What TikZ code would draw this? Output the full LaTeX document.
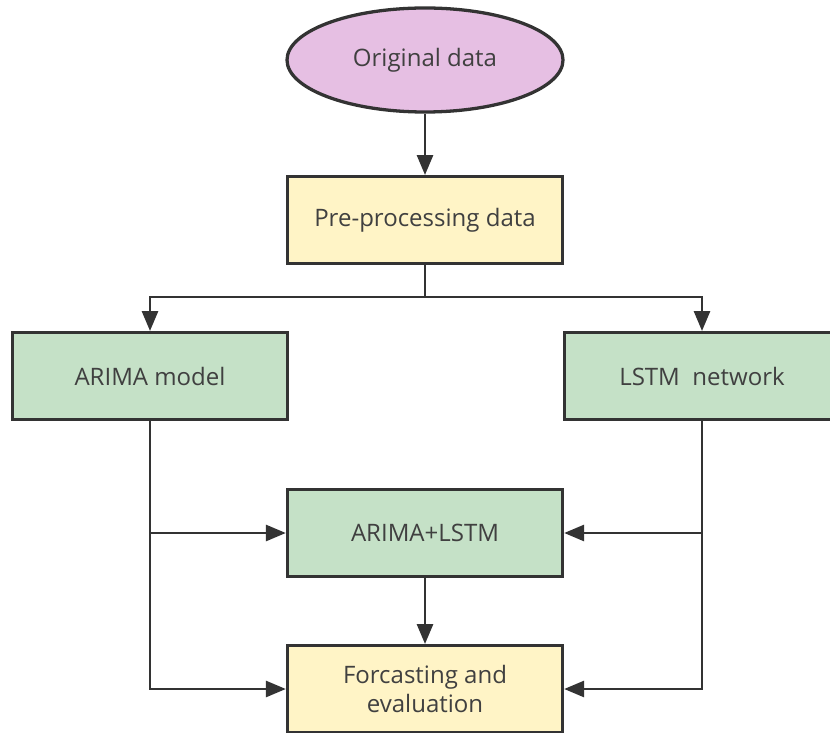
\documentclass[tikz,border=0pt]{standalone}
\usepackage{fontspec}
\setmainfont{Open Sans}
\usetikzlibrary{arrows.meta,shapes.geometric}
\definecolor{edgegray}{HTML}{333333}
\definecolor{textgray}{HTML}{404040}
\definecolor{startpink}{HTML}{E6BFE3}
\definecolor{procyellow}{HTML}{FFF4C6}
\definecolor{modelgreen}{HTML}{C5E1C7}
\begin{document}
\begin{tikzpicture}[x=0.3mm,y=-0.3mm,
  every node/.style={font=\fontsize{20.5}{24}\selectfont,text=textgray},
  box/.style={draw=edgegray,line width=2.8pt,minimum width=82.5mm,minimum height=26mm,align=center},
  conn/.style={draw=edgegray,line width=2.4pt,-{Triangle[length=6mm,width=4.8mm]}}]
  \clip (0,0) rectangle (830,733);
  \node[ellipse,draw=edgegray,line width=2.8pt,fill=startpink,minimum width=82.8mm,minimum height=31.2mm] (orig) at (425,60) {Original data};
  \node[box,fill=procyellow] (pre) at (425,220) {Pre-processing data};
  \node[box,fill=modelgreen] (arima) at (150,376) {ARIMA model};
  \node[box,fill=modelgreen] (lstm) at (702,376) {LSTM\ \ network};
  \node[box,fill=modelgreen] (hybrid) at (425,533) {ARIMA+LSTM};
  \node[box,fill=procyellow] (fore) at (425,689) {Forcasting and\\evaluation};
  % splitting after pre-processing
  \coordinate (split) at (425,297);
  \draw[conn] (orig) -- (pre);
  \draw[edgegray,line width=2.4pt] (pre) -- (split);
  \draw[conn] (split) -| (arima);
  \draw[conn] (split) -| (lstm);
  % model outputs
  \draw[conn] (arima.south) |- (fore.west);
  \draw[conn] (arima.south |- hybrid) -- (hybrid.west);
  \draw[conn] (lstm.south) |- (fore.east);
  \draw[conn] (lstm.south |- hybrid) -- (hybrid.east);
  \draw[conn] (hybrid) -- (fore);
\end{tikzpicture}
\end{document}
